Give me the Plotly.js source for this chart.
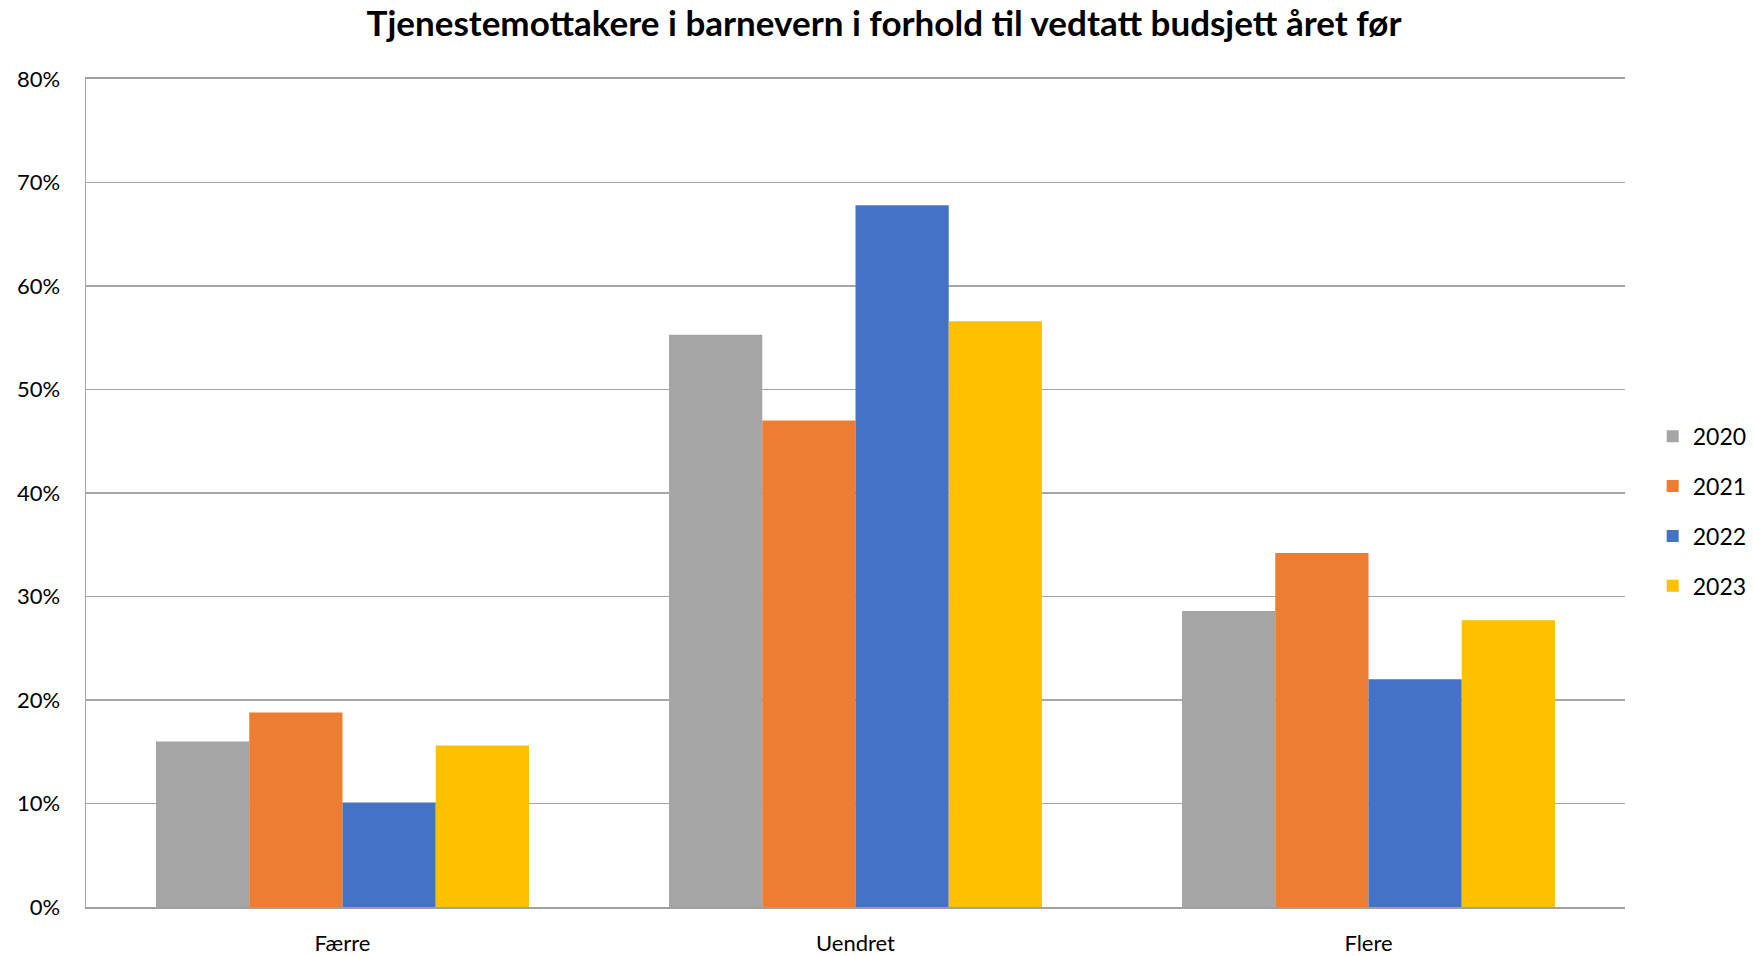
<!DOCTYPE html>
<html>
<head>
<meta charset="utf-8">
<script src="https://cdn.plot.ly/plotly-3.0.1.min.js"></script>
<style>
  html, body { margin: 0; padding: 0; background: #ffffff; }
  #chart { width: 1754px; height: 956px; }
</style>
</head>
<body>
<div id="chart"></div>
<script>
const categories = ['Færre', 'Uendret', 'Flere'];
const seriesNames = ['2020', '2021', '2022', '2023'];
const values2020 = [0.160, 0.553, 0.286];
const values2021 = [0.188, 0.470, 0.342];
const values2022 = [0.101, 0.678, 0.220];
const values2023 = [0.156, 0.566, 0.277];
const seriesColors = ['#A5A5A5', '#ED7D31', '#4472C4', '#FFC000'];
const yTickVals = [0, 0.1, 0.2, 0.3, 0.4, 0.5, 0.6, 0.7, 0.8];
const titleText = 'Tjenestemottakere i barnevern i forhold til vedtatt budsjett året før';

const allValues = [values2020, values2021, values2022, values2023];
const FONT = 'Lato, "Noto Sans", sans-serif';

const traces = seriesNames.map((name, i) => ({
  type: 'bar',
  name: name,
  x: categories,
  y: allValues[i],
  legendgroup: 'g' + i,
  marker: { color: seriesColors[i], line: { width: 0 } },
  hoverinfo: 'skip'
}));

const layout = {
  width: 1754,
  height: 956,
  paper_bgcolor: '#ffffff',
  plot_bgcolor: '#ffffff',
  margin: { l: 86, r: 129, t: 78.5, b: 48.7, pad: 0, autoexpand: false },
  font: { family: FONT, size: 22, color: '#000000' },
  title: {
    text: '<b>' + titleText + '</b>',
    font: { family: FONT, size: 35, color: '#000000' },
    x: 0.504, xref: 'container', xanchor: 'center',
    y: 1 - 24 / 956, yref: 'container', yanchor: 'middle'
  },
  barmode: 'group',
  bargap: 0.273,
  bargroupgap: 0,
  showlegend: true,
  legend: {
    x: 1.018, xanchor: 'left', xref: 'paper',
    y: 0.478, yanchor: 'middle', yref: 'paper',
    font: { family: FONT, size: 23, color: '#000000' },
    tracegroupgap: 17,
    itemclick: false, itemdoubleclick: false,
    bgcolor: 'rgba(0,0,0,0)'
  },
  xaxis: {
    type: 'category',
    categoryorder: 'array',
    categoryarray: categories,
    showline: true, mirror: true, linecolor: '#a0a0a0', linewidth: 1.8,
    ticks: '', showgrid: false, zeroline: false,
    ticklabelstandoff: 16,
    tickfont: { family: FONT, size: 22, color: '#000000' }
  },
  yaxis: {
    range: [0, 0.8],
    tickvals: yTickVals,
    tickformat: '.0%',
    showgrid: true, gridcolor: '#a6a6a6', gridwidth: 1.4,
    showline: true, linecolor: '#a6a6a6', linewidth: 1.4,
    zeroline: false, ticks: '',
    ticklabelstandoff: 20,
    tickfont: { family: FONT, size: 22, color: '#000000' }
  }
};

Plotly.newPlot('chart', traces, layout, { staticPlot: true, displayModeBar: false });
</script>
</body>
</html>
